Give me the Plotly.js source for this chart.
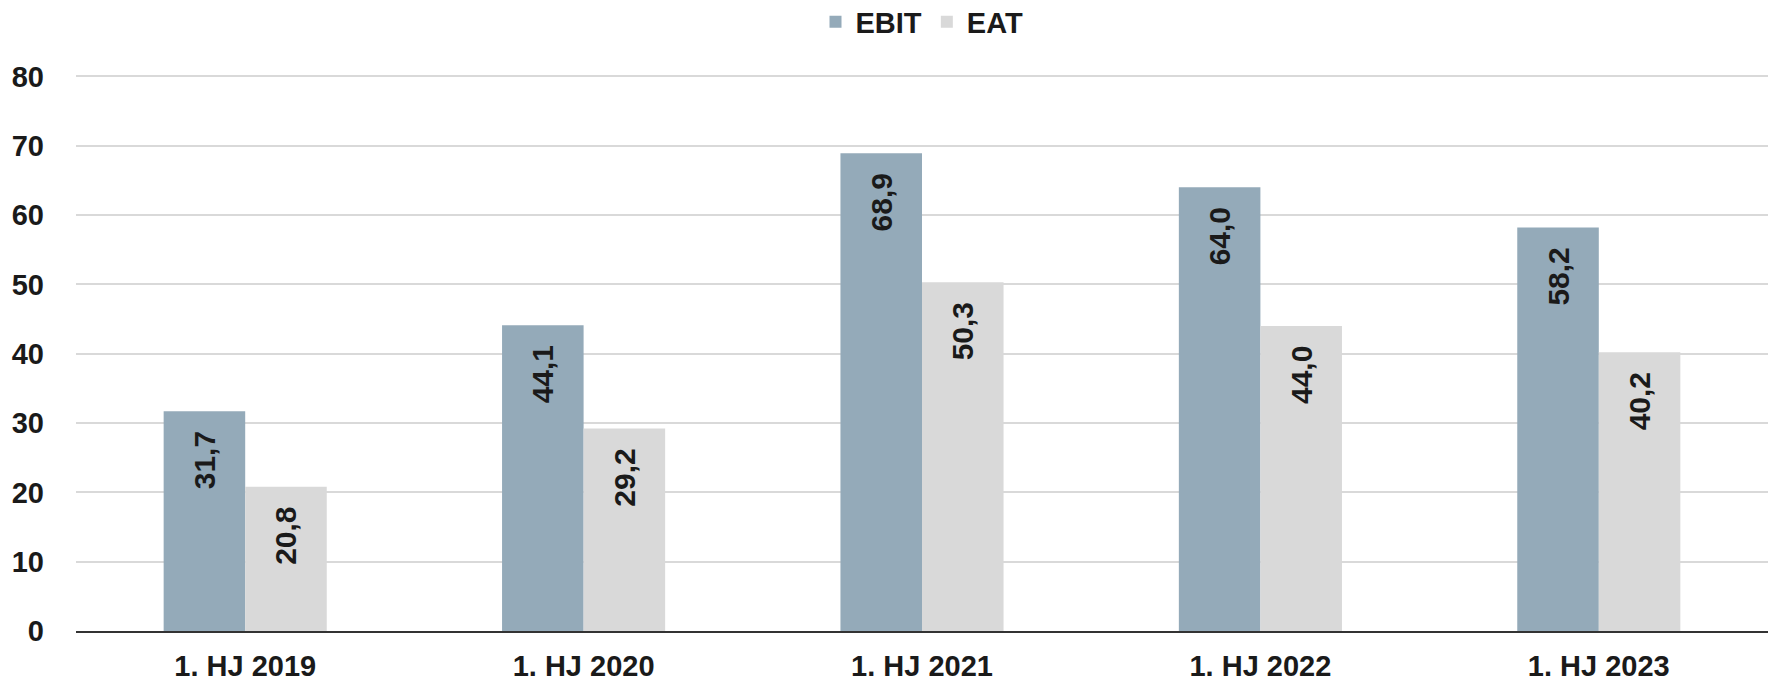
<!DOCTYPE html>
<html>
<head>
<meta charset="utf-8">
<script src="https://cdn.plot.ly/plotly-3.0.1.min.js"></script>
<style>html,body{margin:0;padding:0;background:#fff}#chart{width:1768px;height:686px}</style>
</head>
<body>
<div id="chart"></div>
<script>
const categories = ["1. HJ 2019", "1. HJ 2020", "1. HJ 2021", "1. HJ 2022", "1. HJ 2023"];
const ebit = [31.7, 44.1, 68.9, 64.0, 58.2];
const eat = [20.8, 29.2, 50.3, 44.0, 40.2];
const yTicks = [0, 10, 20, 30, 40, 50, 60, 70, 80];

const font = {family: "Liberation Sans, Arial, sans-serif", color: "#1a1a1a"};
const labelFont = {family: "Liberation Sans, Arial, sans-serif", size: 30, color: "#1a1a1a", weight: "bold"};

function series(name, values, color) {
  return {
    type: "bar", name: name, x: categories, y: values,
    marker: {color: color, line: {width: 0}},
    texttemplate: "<b>%{y:.1f}</b>\u00a0\u00a0",
    textposition: "inside", insidetextanchor: "end", textangle: -90,
    insidetextfont: labelFont, constraintext: "none",
    hoverinfo: "none"
  };
}

const data = [series("EBIT", ebit, "#94aab9"), series("EAT", eat, "#d9d9d9")];

const layout = {
  width: 1768, height: 686,
  margin: {l: 76, r: 0, t: 75, b: 55, autoexpand: false},
  separators: ",.",
  paper_bgcolor: "#fff", plot_bgcolor: "#fff",
  font: Object.assign({size: 29}, font),
  barmode: "group", bargap: 0.518, bargroupgap: 0,
  showlegend: true,
  legend: {orientation: "h", x: 0.5, xanchor: "center", yref: "container", y: 0.968, yanchor: "middle",
           font: Object.assign({size: 29, weight: "bold"}, font), itemwidth: 30, traceorder: "normal"},
  xaxis: {type: "category", tickfont: Object.assign({size: 29, weight: "bold"}, font),
          showgrid: false, ticks: "", showline: true, linecolor: "#333", linewidth: 2,
          ticklabelstandoff: 8},
  yaxis: {range: [0, 80.2], tickvals: yTicks, ticktext: yTicks.map(String),
          tickfont: Object.assign({size: 29, weight: "bold"}, font),
          showgrid: true, gridcolor: "#d9d9d9", gridwidth: 2, zeroline: false,
          showline: false, ticks: "", ticklabelstandoff: 31, fixedrange: true}
};

Plotly.newPlot("chart", data, layout, {displayModeBar: false, staticPlot: true});
</script>
</body>
</html>
